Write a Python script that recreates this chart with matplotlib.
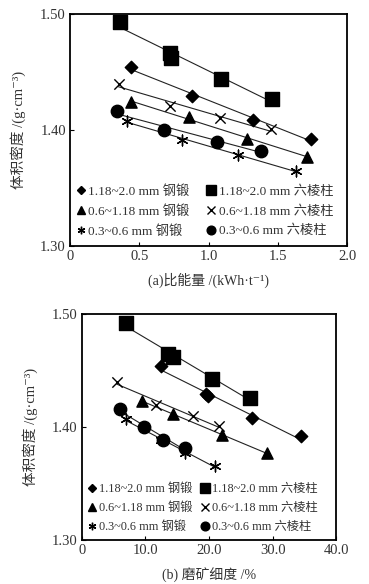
import numpy as np
import matplotlib.pyplot as plt
from matplotlib.lines import Line2D

# DATA
labels = ['1.18~2.0 mm 钢锻', '0.6~1.18 mm 钢锻', '0.3~0.6 mm 钢锻',
          '1.18~2.0 mm 六棱柱', '0.6~1.18 mm 六棱柱', '0.3~0.6 mm 六棱柱']
markers = ['D', '^', (6, 2, 0), 's', 'x', 'o']
sizes = [40, 65, 60, 95, 55, 80]

# (a) specific energy, kWh/t
energy = [
    [0.44, 0.88, 1.32, 1.74],
    [0.44, 0.86, 1.28, 1.71],
    [0.41, 0.81, 1.21, 1.63],
    [0.36, 0.72, 0.73, 1.09, 1.46],
    [0.35, 0.72, 1.08, 1.45],
    [0.34, 0.68, 1.06, 1.38],
]
density_a = [
    [1.454, 1.429, 1.409, 1.392],
    [1.424, 1.411, 1.392, 1.377],
    [1.408, 1.391, 1.378, 1.365],
    [1.493, 1.466, 1.462, 1.444, 1.427],
    [1.440, 1.421, 1.410, 1.401],
    [1.416, 1.400, 1.390, 1.382],
]

# (b) grinding fineness, %
fineness = [
    [12.4, 19.5, 19.9, 26.7, 34.4],
    [9.4, 14.4, 22.0, 29.1],
    [6.9, 12.4, 16.2, 20.9],
    [6.9, 13.6, 14.4, 20.5, 26.4],
    [5.5, 11.7, 17.5, 21.5],
    [6.0, 9.7, 12.8, 16.2],
]
density_b = [
    [1.454, 1.429, 1.428, 1.408, 1.392],
    [1.423, 1.412, 1.393, 1.377],
    [1.407, 1.389, 1.377, 1.366],
    [1.492, 1.465, 1.462, 1.443, 1.426],
    [1.440, 1.420, 1.410, 1.401],
    [1.416, 1.400, 1.389, 1.382],
]

fam = ['Liberation Serif', 'Noto Sans CJK SC', 'DejaVu Serif']
plt.rcParams['font.family'] = fam
txt = '#333333'

fig = plt.figure(figsize=(3.69, 5.84), dpi=100)
ax1 = fig.add_axes([0.190, 0.579, 0.751, 0.397])
ax2 = fig.add_axes([0.222, 0.075, 0.689, 0.387])


def draw(ax, xs, ys, xlim, xticks, xticklabels, xlabel, colsp, legfs):
    for i in range(len(labels)):
        x = np.array(xs[i])
        y = np.array(ys[i])
        k, b = np.polyfit(x, y, 1)
        xl = np.array([x.min(), x.max()])
        ax.plot(xl, k * xl + b, color='#222222', lw=0.8, zorder=2)
        ax.scatter(x, y, marker=markers[i], s=sizes[i], color='black',
                   linewidths=1.0, zorder=3)
    ax.set_xlim(*xlim)
    ax.set_ylim(1.30, 1.50)
    ax.set_xticks(xticks)
    ax.set_xticklabels(xticklabels)
    ax.set_yticks([1.30, 1.40, 1.50])
    ax.set_yticklabels(['1.30', '1.40', '1.50'])
    ax.tick_params(direction='in', length=3, width=0.8, labelsize=10.5,
                   colors='black', labelcolor=txt, pad=3)
    for s in ax.spines.values():
        s.set_linewidth(1.3)
    ax.set_ylabel('体积密度 /(g·cm⁻³)', fontsize=10.5, color=txt, labelpad=10)
    ax.set_xlabel(xlabel, fontsize=10, color=txt, labelpad=7)
    handles = [Line2D([], [], ls='none', marker=markers[i], color='black',
                      markersize=np.sqrt(sizes[i]) * 0.7, markeredgewidth=1.0)
               for i in range(len(labels))]
    ax.legend(handles, labels, ncol=2, loc='lower left', frameon=False,
              fontsize=legfs, handletextpad=0.1, handlelength=0.9,
              columnspacing=colsp, labelspacing=0.55, borderaxespad=0.2,
              bbox_to_anchor=(-0.01, 0.0), labelcolor=txt)


draw(ax1, energy, density_a, (0, 2.0), [0, 0.5, 1.0, 1.5, 2.0],
     ['0', '0.5', '1.0', '1.5', '2.0'], '(a)比能量 /(kWh·t⁻¹)', 1.2, 9.5)
draw(ax2, fineness, density_b, (0, 40), [0, 10, 20, 30, 40],
     ['0', '10.0', '20.0', '30.0', '40.0'], '(b) 磨矿细度 /%', 0.6, 8.8)

plt.savefig('out.png', dpi=100)
